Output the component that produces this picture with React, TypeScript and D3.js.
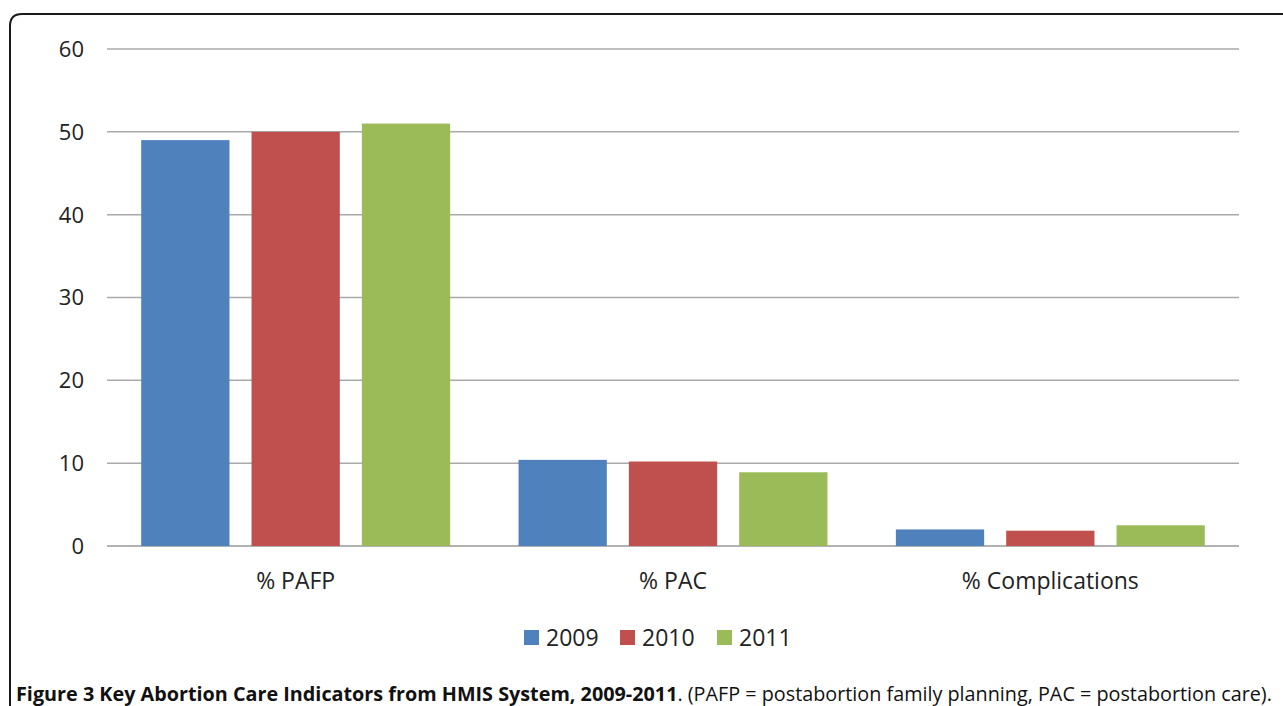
import * as React from "react";
import * as d3 from "d3";

const categories = ["% PAFP", "% PAC", "% Complications"];
const years = ["2009", "2010", "2011"];
const colors = ["#4F81BD", "#C0504D", "#9BBB59"];
const values2009 = [49, 10.4, 2.0];
const values2010 = [50, 10.2, 1.85];
const values2011 = [51, 8.9, 2.5];
const yTicks = [0, 10, 20, 30, 40, 50, 60];

const W = 1283;
const H = 706;

function drawChart(svgEl: SVGSVGElement) {
  const svg = d3.select(svgEl);
  svg.selectAll("*").remove();

  const series = [values2009, values2010, values2011];
  const left = 107;
  const right = 1239;
  const top = 49;
  const bottom = 546;

  const x = d3.scaleBand().domain(categories).range([left, right]);
  const x1 = d3
    .scaleBand()
    .domain(years)
    .range([0, x.bandwidth()])
    .paddingInner(0.2)
    .paddingOuter(0.31);
  const y = d3.scaleLinear().domain([0, 60]).range([bottom, top]);

  // frame
  svg
    .append("path")
    .attr("d", `M10,${H + 5} L10,26 Q10,14 22,14 L${W + 5},14`)
    .attr("fill", "none")
    .attr("stroke", "#1a1a1a")
    .attr("stroke-width", 2);

  // gridlines
  svg
    .append("g")
    .selectAll("line")
    .data(yTicks)
    .enter()
    .append("line")
    .attr("x1", left)
    .attr("x2", right)
    .attr("y1", (d) => y(d))
    .attr("y2", (d) => y(d))
    .attr("stroke", (d) => (d === 0 ? "#999" : "#aaa"))
    .attr("stroke-width", 1.5);

  svg
    .append("g")
    .selectAll("text")
    .data(yTicks)
    .enter()
    .append("text")
    .attr("x", 84)
    .attr("y", (d) => y(d))
    .attr("dy", "0.36em")
    .attr("text-anchor", "end")
    .attr("font-family", "'Open Sans', sans-serif")
    .attr("font-size", 22)
    .attr("fill", "#222")
    .text((d) => d);

  // bars
  const groups = svg
    .append("g")
    .selectAll("g")
    .data(categories)
    .enter()
    .append("g")
    .attr("transform", (d) => `translate(${x(d)},0)`);

  groups
    .selectAll("rect")
    .data((_c, i) => years.map((yr, j) => ({ yr, j, v: series[j][i] })))
    .enter()
    .append("rect")
    .attr("x", (d) => x1(d.yr)!)
    .attr("width", x1.bandwidth())
    .attr("y", (d) => y(d.v))
    .attr("height", (d) => bottom - y(d.v))
    .attr("fill", (d) => colors[d.j]);

  // category labels
  svg
    .append("g")
    .selectAll("text")
    .data(categories)
    .enter()
    .append("text")
    .attr("x", (d) => x(d)! + x.bandwidth() / 2)
    .attr("y", 589)
    .attr("text-anchor", "middle")
    .attr("font-family", "'Open Sans', sans-serif")
    .attr("font-size", 23)
    .attr("fill", "#222")
    .text((d) => d);

  // legend
  const legendX = [524, 620, 717];
  const leg = svg
    .append("g")
    .selectAll("g")
    .data(years)
    .enter()
    .append("g")
    .attr("transform", (_d, i) => `translate(${legendX[i]},630)`);
  leg
    .append("rect")
    .attr("width", 15)
    .attr("height", 15)
    .attr("fill", (_d, i) => colors[i]);
  leg
    .append("text")
    .attr("x", 22)
    .attr("y", 16)
    .attr("font-family", "'Open Sans', sans-serif")
    .attr("font-size", 23)
    .attr("fill", "#222")
    .text((d) => d);

  // caption
  const cap = svg
    .append("text")
    .attr("x", 16)
    .attr("y", 701)
    .attr("font-family", "'Open Sans', sans-serif")
    .attr("font-size", 19.8)
    .attr("fill", "#111");
  cap
    .append("tspan")
    .attr("font-weight", "bold")
    .text("Figure 3 Key Abortion Care Indicators from HMIS System, 2009-2011");
  cap
    .append("tspan")
    .text(". (PAFP = postabortion family planning, PAC = postabortion care).");
}

export default function App() {
  const ref = React.useRef<SVGSVGElement>(null);
  React.useEffect(() => {
    if (ref.current) drawChart(ref.current);
  }, []);
  return (
    <svg
      ref={ref}
      width={W}
      height={H}
      style={{ position: "absolute", left: 0, top: 0, background: "#fff" }}
    />
  );
}
